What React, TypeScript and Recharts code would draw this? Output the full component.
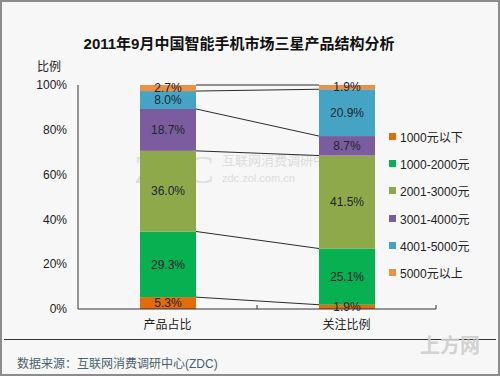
import React from "react";
import { BarChart, Bar, XAxis, YAxis, LabelList } from "recharts";

// categories on the x axis
const categories = ["产品占比", "关注比例"];

// share (%) of each price band, [产品占比, 关注比例]
const under1000 = [5.3, 1.9];
const band1000to2000 = [29.3, 25.1];
const band2001to3000 = [36.0, 41.5];
const band3001to4000 = [18.7, 8.7];
const band4001to5000 = [8.0, 20.9];
const over5000 = [2.7, 1.9];

const seriesNames = ["1000元以下", "1000-2000元", "2001-3000元", "3001-4000元", "4001-5000元", "5000元以上"];
const seriesValues = [under1000, band1000to2000, band2001to3000, band3001to4000, band4001to5000, over5000];
const seriesColors = ["#E36C0A", "#07B050", "#8EA94A", "#7B5C9E", "#45A4C4", "#EE9044"];

const yTicks = [0, 20, 40, 60, 80, 100];

const chartData = categories.map((name, i) => {
  const row: Record<string, string | number> = { name };
  seriesNames.forEach((s, k) => {
    row[s] = seriesValues[k][i];
  });
  return row;
});

const FONT = "'Liberation Sans', Arial, 'Noto Sans CJK SC', sans-serif";

// top-right corner of each segment in the first column, used to draw the connectors
const firstTops: Record<string, { x: number; y: number }> = {};

function makeShape(key: string, color: string) {
  return (props: any) => {
    const { x, y, width, height, index } = props;
    let connector = null;
    if (index === 0) {
      firstTops[key] = { x: x + width, y };
    } else if (firstTops[key]) {
      const p = firstTops[key];
      connector = <line x1={p.x} y1={p.y} x2={x} y2={y} stroke="#2b2b2b" strokeWidth={1} />;
    }
    return (
      <g>
        <rect x={x} y={y} width={width} height={height} fill={color} />
        {connector}
      </g>
    );
  };
}

const CategoryTick = (props: any) => {
  const { x, y, payload } = props;
  const off = payload.offset ?? 0;
  return (
    <g>
      <text x={x} y={y} dy={20} textAnchor="middle" fontSize={12} fill="#222" fontFamily={FONT}>
        {payload.value}
      </text>
      <line x1={x + off} y1={y - 4} x2={x + off} y2={y} stroke="#333" />
    </g>
  );
};

export default function App() {
  return (
    <div
      style={{
        position: "absolute",
        left: 0,
        top: 0,
        width: 500,
        height: 376,
        background: "#f7f7f7",
        boxShadow: "inset 0 0 0 2px #8c8c8c",
        fontFamily: FONT,
        overflow: "hidden",
      }}
    >
      <div
        style={{
          position: "absolute",
          left: 0,
          width: 478,
          top: 32,
          textAlign: "center",
          fontSize: 15,
          fontWeight: "bold",
          color: "#111",
        }}
      >
        2011年9月中国智能手机市场三星产品结构分析
      </div>
      <div style={{ position: "absolute", left: 37, top: 57, fontSize: 12, color: "#222" }}>比例</div>

      {/* faint watermarks */}
      <div
        style={{
          position: "absolute",
          left: 134,
          top: 156,
          fontSize: 40,
          lineHeight: "28px",
          fontFamily: "'Liberation Serif', serif",
          color: "#dadada",
          opacity: 0.8,
        }}
      >
        ZDC
      </div>
      <div style={{ position: "absolute", left: 222, top: 150, fontSize: 13, color: "#d6d6d6", opacity: 0.8 }}>
        互联网消费调研中心
      </div>
      <div style={{ position: "absolute", left: 222, top: 172, fontSize: 11, color: "#d6d6d6", opacity: 0.8 }}>
        zdc.zol.com.cn
      </div>

      <BarChart
        width={500}
        height={376}
        data={chartData}
        margin={{ top: 85, right: 64, left: 0, bottom: 0 }}
        style={{ position: "absolute", left: 0, top: 0 }}
      >
        <XAxis
          dataKey="name"
          height={67}
          axisLine={{ stroke: "#333" }}
          tickLine={false}
          tickSize={0}
          tickMargin={0}
          tick={<CategoryTick />}
        />
        <YAxis
          width={78}
          domain={[0, 100]}
          ticks={yTicks}
          tickFormatter={(v: number) => `${v}%`}
          axisLine={{ stroke: "#333" }}
          tickLine={false}
          tickMargin={5}
          tick={{ fontSize: 12, fill: "#222", fontFamily: FONT }}
          interval={0}
        />
        {seriesNames.map((s, k) => (
          <Bar
            key={s}
            dataKey={s}
            stackId="a"
            barSize={56}
            fill={seriesColors[k]}
            shape={makeShape(s, seriesColors[k])}
            isAnimationActive={false}
          >
            <LabelList
              dataKey={s}
              position="center"
              formatter={(v: any) => `${Number(v).toFixed(1)}%`}
              style={{ fontSize: 12, fill: "#1d2430", fontFamily: FONT }}
            />
          </Bar>
        ))}
      </BarChart>

      {/* legend */}
      <div style={{ position: "absolute", left: 389, top: 123 }}>
        {seriesNames.map((s, k) => (
          <div key={s} style={{ display: "flex", alignItems: "center", height: 27.2, fontSize: 12, color: "#222" }}>
            <span style={{ display: "inline-block", width: 7, height: 7, background: seriesColors[k], marginRight: 4 }} />
            {s}
          </div>
        ))}
      </div>

      <div style={{ position: "absolute", left: 4, right: 4, top: 339, height: 1, background: "#333" }} />
      <div style={{ position: "absolute", left: 17, top: 354, fontSize: 12, color: "#4a5f6e" }}>
        数据来源：互联网消费调研中心(ZDC)
      </div>
      <div style={{ position: "absolute", left: 420, top: 330, fontSize: 20, fontWeight: "bold", color: "#cfcfcf", opacity: 0.9 }}>
        上方网
      </div>
    </div>
  );
}
